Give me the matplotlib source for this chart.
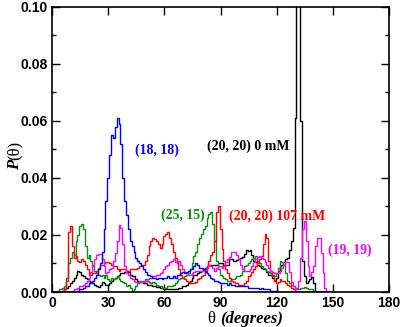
import numpy as np
import matplotlib
matplotlib.use("Agg")
import matplotlib.pyplot as plt
from matplotlib.ticker import MultipleLocator

# bin positions (degrees)
theta = np.arange(0, 150)

p_18_18 = [
    0, 0, 0, 0, 0, 0, 0, 0, 0, 0,
    0, 0, 0, 0, 0.0005, 0.001, 0.001, 0.0015, 0.002, 0.002,
    0.003, 0.003, 0.004, 0.005, 0.006, 0.008, 0.010, 0.014, 0.022, 0.032,
    0.040, 0.048, 0.055, 0.054, 0.058, 0.061, 0.059, 0.052, 0.040, 0.032,
    0.027, 0.022, 0.018, 0.016, 0.014, 0.012, 0.011, 0.010, 0.009, 0.008,
    0.007, 0.006, 0.006, 0.0055, 0.005, 0.005, 0.0045, 0.005, 0.005, 0.0045,
    0.005, 0.005, 0.0055, 0.005, 0.005, 0.0055, 0.005, 0.006, 0.006, 0.0065,
    0.007, 0.0065, 0.007, 0.0075, 0.008, 0.008, 0.009, 0.010, 0.0095, 0.0085,
    0.0085, 0.008, 0.007, 0.0065, 0.006, 0.005, 0.0045, 0.004, 0.004, 0.0035,
    0.003, 0.003, 0.003, 0.003, 0.0025, 0.003, 0.0025, 0.0025, 0.002, 0.002,
    0.002, 0.002, 0.002, 0.002, 0.002, 0.0015, 0.0015, 0.0015, 0.0015, 0.0015,
    0.0015, 0.001, 0.0015, 0.001, 0.001, 0.001, 0.001, 0.0005, 0.0005, 0.0005,
    0.0005, 0, 0, 0, 0, 0, 0, 0, 0, 0,
    0, 0, 0, 0, 0, 0, 0, 0, 0, 0,
    0, 0, 0, 0, 0, 0, 0, 0, 0, 0,
]

p_25_15 = [
    0, 0, 0, 0.0005, 0.001, 0.001, 0.0015, 0.002, 0.005, 0.010,
    0.012, 0.014, 0.013, 0.018, 0.020, 0.023, 0.024, 0.022, 0.016, 0.012,
    0.013, 0.011, 0.009, 0.0075, 0.0065, 0.006, 0.0055, 0.006, 0.005, 0.006,
    0.0045, 0.004, 0.005, 0.0045, 0.005, 0.0055, 0.0045, 0.004, 0.0035, 0.003,
    0.002, 0.0025, 0.0015, 0.0005, 0.001, 0.002, 0.003, 0.0035, 0.004, 0.004,
    0.0045, 0.004, 0.0035, 0.003, 0.0035, 0.003, 0.0025, 0.002, 0.002, 0.0015,
    0.0015, 0.0015, 0.002, 0.002, 0.002, 0.0025, 0.003, 0.004, 0.0045, 0.005,
    0.005, 0.0055, 0.006, 0.0065, 0.008, 0.010, 0.0125, 0.014, 0.017, 0.019,
    0.0205, 0.022, 0.023, 0.026, 0.0275, 0.028, 0.024, 0.018, 0.011, 0.008,
    0.006, 0.0055, 0.005, 0.0045, 0.004, 0.004, 0.0045, 0.0045, 0.005, 0.0055,
    0.0055, 0.006, 0.0075, 0.009, 0.0095, 0.010, 0.011, 0.0115, 0.012, 0.0125,
    0.011, 0.010, 0.009, 0.0085, 0.008, 0.0075, 0.007, 0.0065, 0.006, 0.0055,
    0.0065, 0.0085, 0.011, 0.0105, 0.0095, 0.0065, 0.004, 0.003, 0.0025, 0.002,
    0.0015, 0.001, 0.0012, 0.0015, 0.0015, 0.0017, 0.0015, 0.0012, 0.0012, 0.001,
    0.0005, 0, 0, 0, 0, 0, 0, 0, 0, 0,
]

p_20_20_107 = [
    0, 0, 0, 0, 0, 0, 0, 0.001, 0.004, 0.021,
    0.023, 0.016, 0.012, 0.0125, 0.011, 0.0105, 0.0117, 0.011, 0.0095, 0.008,
    0.006, 0.006, 0.0065, 0.0066, 0.0075, 0.0085, 0.0095, 0.0095, 0.010, 0.0105,
    0.0105, 0.010, 0.0095, 0.009, 0.009, 0.008, 0.0075, 0.008, 0.008, 0.008,
    0.0075, 0.0075, 0.008, 0.008, 0.008, 0.008, 0.0085, 0.009, 0.0095, 0.0095,
    0.011, 0.013, 0.016, 0.018, 0.019, 0.0185, 0.018, 0.017, 0.0155, 0.017,
    0.0195, 0.0205, 0.021, 0.019, 0.017, 0.014, 0.012, 0.010, 0.008, 0.006,
    0.005, 0.0045, 0.004, 0.0035, 0.003, 0.003, 0.003, 0.0035, 0.0045, 0.005,
    0.0055, 0.006, 0.0075, 0.009, 0.011, 0.013, 0.014, 0.018, 0.028, 0.030,
    0.022, 0.015, 0.011, 0.008, 0.0066, 0.005, 0.004, 0.0035, 0.003, 0.003,
    0.0025, 0.0025, 0.0025, 0.003, 0.004, 0.0055, 0.006, 0.007, 0.008, 0.009,
    0.010, 0.0115, 0.0125, 0.017, 0.0205, 0.019, 0.011, 0.0075, 0.0055, 0.004,
    0.003, 0.0035, 0.0045, 0.004, 0.004, 0.003, 0.0025, 0.002, 0.0015, 0.001,
    0.0005, 0, 0, 0, 0, 0, 0, 0, 0, 0,
    0, 0, 0, 0, 0, 0, 0, 0, 0, 0,
]

p_19_19 = [
    0, 0, 0, 0, 0, 0, 0, 0, 0, 0,
    0, 0.0005, 0.001, 0.001, 0.0015, 0.002, 0.002, 0.0025, 0.003, 0.004,
    0.005, 0.007, 0.0095, 0.0115, 0.013, 0.0135, 0.0135, 0.0115, 0.009, 0.0066,
    0.007, 0.008, 0.0085, 0.011, 0.0136, 0.018, 0.0235, 0.0225, 0.017, 0.009,
    0.0065, 0.006, 0.005, 0.0045, 0.004, 0.0035, 0.0035, 0.004, 0.0035, 0.0035,
    0.004, 0.0045, 0.005, 0.005, 0.0055, 0.0055, 0.006, 0.006, 0.0065, 0.007,
    0.008, 0.009, 0.0095, 0.0105, 0.011, 0.0117, 0.0106, 0.0105, 0.011, 0.0095,
    0.008, 0.007, 0.0065, 0.006, 0.006, 0.0065, 0.007, 0.0075, 0.0075, 0.0075,
    0.0075, 0.0075, 0.008, 0.0085, 0.0095, 0.009, 0.0085, 0.0075, 0.0085, 0.009,
    0.009, 0.0085, 0.009, 0.0105, 0.0115, 0.0124, 0.0142, 0.014, 0.0142, 0.013,
    0.0117, 0.0095, 0.008, 0.0075, 0.0075, 0.0075, 0.008, 0.009, 0.0105, 0.0117,
    0.0124, 0.0125, 0.012, 0.0115, 0.0105, 0.0095, 0.0084, 0.0075, 0.007, 0.0065,
    0.0066, 0.0068, 0.0075, 0.0085, 0.0095, 0.0105, 0.0105, 0.007, 0.0035, 0.002,
    0.0012, 0.0015, 0.004, 0.012, 0.022, 0.025, 0.018, 0.009, 0.0055, 0.007,
    0.009, 0.016, 0.019, 0.019, 0.0136, 0.0066, 0.0014, 0, 0, 0,
]

p_20_20_0 = [
    0, 0, 0, 0, 0, 0, 0.0005, 0.001, 0.0015, 0.002,
    0.003, 0.004, 0.005, 0.006, 0.0075, 0.007, 0.006, 0.0055, 0.005, 0.0045,
    0.004, 0.0035, 0.003, 0.0025, 0.002, 0.0018, 0.0025, 0.0035, 0.003, 0.0025,
    0.0025, 0.003, 0.004, 0.0045, 0.005, 0.0055, 0.006, 0.0065, 0.0066, 0.007,
    0.0075, 0.007, 0.006, 0.0055, 0.0055, 0.0045, 0.004, 0.0035, 0.0035, 0.003,
    0.003, 0.0025, 0.0025, 0.0025, 0.002, 0.002, 0.0018, 0.0018, 0.0015, 0.0015,
    0.0012, 0.0012, 0.001, 0.0012, 0.001, 0.001, 0.0012, 0.0012, 0.0015, 0.0015,
    0.002, 0.002, 0.0025, 0.003, 0.004, 0.005, 0.006, 0.006, 0.0065, 0.007,
    0.0075, 0.008, 0.0085, 0.009, 0.0095, 0.0095, 0.0095, 0.0095, 0.0095, 0.010,
    0.010, 0.010, 0.0095, 0.0095, 0.0095, 0.0115, 0.0117, 0.011, 0.011, 0.0112,
    0.0115, 0.012, 0.0124, 0.0135, 0.0148, 0.0145, 0.0148, 0.013, 0.011, 0.0105,
    0.0095, 0.009, 0.0085, 0.008, 0.008, 0.007, 0.006, 0.006, 0.005, 0.004,
    0.005, 0.0075, 0.009, 0.0095, 0.0105, 0.0117, 0.012, 0.0148, 0.018, 0.0225,
    0.061, 0.2, 0.2, 0.06, 0.011, 0.0055, 0.003, 0.004, 0.0045, 0.0054,
    0.003, 0, 0, 0, 0, 0, 0, 0, 0, 0,
]

series = [
    (p_20_20_0, "black"),
    (p_25_15, "#108a10"),
    (p_20_20_107, "red"),
    (p_19_19, "magenta"),
    (p_18_18, "blue"),
]

fig = plt.figure(figsize=(4.04, 3.27), dpi=100)
ax = fig.add_axes([0.129, 0.107, 0.834, 0.872])

for vals, color in series:
    ax.plot(theta, vals, color=color, lw=1.0, drawstyle="steps-mid")

ax.set_xlim(0, 180)
ax.set_ylim(0, 0.10)
ax.xaxis.set_major_locator(MultipleLocator(30))
ax.yaxis.set_major_locator(MultipleLocator(0.02))
ax.yaxis.set_minor_locator(MultipleLocator(0.01))
ax.tick_params(which="both", direction="in", top=True, right=True, width=1)
ax.tick_params(which="major", length=6)
ax.tick_params(which="minor", length=3)
ax.tick_params(axis="x", pad=3)
ax.tick_params(axis="y", pad=3)
ax.yaxis.set_major_formatter(plt.FormatStrFormatter("%.2f"))
for lab in ax.get_xticklabels() + ax.get_yticklabels():
    lab.set_fontfamily("Liberation Sans")
    lab.set_fontweight("bold")
    lab.set_fontsize(10)
for s in ax.spines.values():
    s.set_linewidth(1.2)

serif = "Liberation Serif"
fig.text(0.545, 0.024, "\u03b8 ", fontsize=12, family=serif, ha="right", va="center")
fig.text(0.545, 0.024, "(degrees)", fontsize=12, family=serif, style="italic",
         weight="bold", ha="left", va="center")
fig.text(0.036, 0.51, "P", fontsize=12, family=serif, style="italic", weight="bold",
         rotation=90, ha="center", va="top")
fig.text(0.036, 0.51, "(\u03b8)", fontsize=12, family=serif, rotation=90,
         ha="center", va="bottom")

tfont = dict(family=serif, weight="bold", fontsize=10, ha="center", va="center")
ax.text(56, 0.0498, "(18, 18)", color="blue", **tfont)
ax.text(105, 0.0512, "(20, 20) 0 mM", color="black", **tfont)
ax.text(70, 0.027, "(25, 15)", color="#108a10", **tfont)
ax.text(120, 0.0264, "(20, 20) 107 mM", color="red", **tfont)
ax.text(159, 0.0147, "(19, 19)", color="magenta", **tfont)

fig.savefig("out.png", dpi=100)
